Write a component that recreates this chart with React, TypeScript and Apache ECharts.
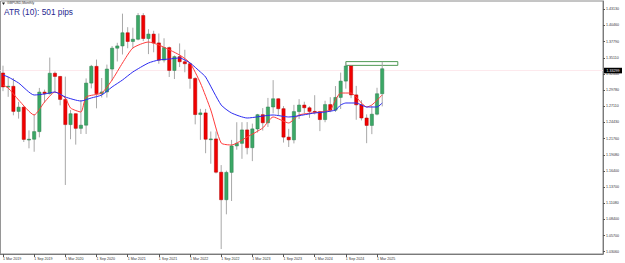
import React, { useEffect, useRef } from "react";
import * as echarts from "echarts";

const MONTH_NAMES = ["Jan","Feb","Mar","Apr","May","Jun","Jul","Aug","Sep","Oct","Nov","Dec"];
const TOTAL_SLOTS = 116; // visible bar slots incl. right shift
const categories: string[] = Array.from({ length: TOTAL_SLOTS }, (_, k) => {
  const m = (2 + k) % 12;
  const y = 2019 + Math.floor((2 + k) / 12);
  return `1 ${MONTH_NAMES[m]} ${y}`;
});

// Monthly GBPUSD candles, Mar 2019 .. Apr 2025
const opens = [1.3260,1.3030,1.3040,1.2625,1.2695,1.2162,1.2165,1.2291,1.2944,1.2918,1.3256,1.3203,1.2823,1.2407,1.2587,1.2345,1.2397,1.3093,1.3370,1.2918,1.2946,1.3325,1.3670,1.3707,1.3925,1.3781,1.3818,1.4210,1.3830,1.3903,1.3757,1.3473,1.3680,1.3302,1.3530,1.3446,1.3413,1.3170,1.2573,1.2600,1.2165,1.2170,1.1620,1.1165,1.1617,1.2055,1.2097,1.2319,1.2025,1.2336,1.2571,1.2437,1.2698,1.2834,1.2670,1.2200,1.2155,1.2622,1.2730,1.2685,1.2625,1.2620,1.2490,1.2738,1.2645,1.2856,1.3126,1.3376,1.2898,1.2734,1.2516,1.2393,1.2579,1.2917];
const highs = [1.3381,1.3196,1.3176,1.2783,1.2710,1.2311,1.2582,1.3013,1.2985,1.3515,1.3284,1.3212,1.3200,1.2647,1.2590,1.2813,1.3170,1.3394,1.3482,1.3177,1.3399,1.3705,1.3759,1.4241,1.4017,1.4009,1.4250,1.4249,1.3984,1.3958,1.3913,1.3834,1.3697,1.3550,1.3749,1.3644,1.3437,1.3190,1.2667,1.2666,1.2293,1.2293,1.1738,1.1646,1.2154,1.2446,1.2447,1.2448,1.2423,1.2584,1.2680,1.2848,1.3142,1.2841,1.2713,1.2337,1.2733,1.2827,1.2785,1.2709,1.2893,1.2634,1.2801,1.2860,1.3044,1.3266,1.3434,1.3391,1.3047,1.2811,1.2576,1.2715,1.3016,1.3445];
const lows = [1.2960,1.2866,1.2560,1.2506,1.2119,1.2015,1.1958,1.2196,1.2769,1.2904,1.2954,1.2725,1.1409,1.2165,1.2076,1.2252,1.2252,1.3006,1.2676,1.2855,1.2854,1.3135,1.3450,1.3566,1.3669,1.3670,1.3800,1.3787,1.3572,1.3602,1.3412,1.3434,1.3194,1.3160,1.3358,1.3272,1.3000,1.2411,1.2155,1.1934,1.1760,1.1600,1.0350,1.0924,1.1144,1.1992,1.1841,1.1915,1.1803,1.2275,1.2308,1.2368,1.2592,1.2548,1.2110,1.2037,1.2096,1.2500,1.2597,1.2518,1.2575,1.2299,1.2446,1.2612,1.2616,1.2665,1.3001,1.2844,1.2487,1.2475,1.2100,1.2249,1.2560,1.2708];
const closes = [1.3030,1.3040,1.2625,1.2695,1.2162,1.2165,1.2291,1.2944,1.2918,1.3256,1.3203,1.2823,1.2407,1.2587,1.2345,1.2397,1.3093,1.3370,1.2918,1.2946,1.3325,1.3670,1.3707,1.3925,1.3781,1.3818,1.4210,1.3830,1.3903,1.3757,1.3473,1.3680,1.3302,1.3530,1.3446,1.3413,1.3170,1.2573,1.2600,1.2165,1.2170,1.1620,1.1165,1.1617,1.2055,1.2097,1.2319,1.2025,1.2336,1.2571,1.2437,1.2698,1.2834,1.2670,1.2200,1.2155,1.2622,1.2730,1.2685,1.2625,1.2620,1.2490,1.2738,1.2645,1.2856,1.3126,1.3376,1.2898,1.2734,1.2516,1.2393,1.2579,1.2917,1.3330];

// Moving averages (null = not read; lines join readings)
const _ = null;
const maFast: (number | null)[] = [1.3062,1.3012,_,1.2814,_,_,1.2566,_,1.2780,_,1.2946,_,1.2847,1.2681,_,1.2615,1.2863,_,_,1.2929,_,1.3144,_,1.3425,_,1.3673,_,_,1.3772,_,1.3723,_,_,_,1.3557,_,1.3425,_,1.3095,_,1.2648,_,1.2103,_,1.2070,_,_,1.2202,_,_,1.2351,_,1.2533,_,_,1.2434,_,1.2566,_,_,_,1.2615,_,1.2648,1.2814,1.2929,_,1.2929,1.2863,1.2764,1.2698,1.2731,_,1.2896];
const maSlow: (number | null)[] = [1.3227,1.3194,_,1.3095,_,_,1.2896,_,1.2913,_,1.2946,_,1.2863,_,_,1.2797,_,1.2847,_,1.2896,_,1.3029,_,1.3144,_,1.3277,_,_,1.3425,_,1.3475,_,1.3491,_,1.3508,_,1.3425,_,1.3277,1.3194,_,_,1.2731,_,1.2599,_,_,1.2516,_,_,_,_,1.2566,_,_,1.2533,_,_,_,_,1.2599,_,1.2615,_,1.2648,1.2731,1.2764,_,1.2764,_,1.2698,_,1.2698,1.2764];

const yTickLabels = ["1.43130","1.40460","1.37790","1.35110","1.32440","1.29780","1.27110","1.24430","1.21760","1.19080","1.16400","1.13700","1.11080","1.08400","1.05700","1.03060"];
const currentPrice = 1.3330;
const currentPriceLabel = "1.33299";
const boxFrom = "1 Sep 2024";
const boxTo = "1 Jul 2025";
const boxTop = 1.3448;
const boxBottom = 1.3386;
const chartSymbol = "GBPUSD,Monthly";
const atrText = "ATR (10): 501 pips";

const Y_MIN = 1.0268;
const Y_MAX = 1.4450;

const GREEN = "#3ba866";
const GREEN_EDGE = "#2a7d4c";
const RED = "#f20000";
const RED_EDGE = "#b00000";
const WICK = "#a8a8a8";

export default function App() {
  const ref = useRef<HTMLDivElement>(null);
  useEffect(() => {
    if (!ref.current) return;
    const chart = echarts.init(ref.current, undefined, { renderer: "svg" });
    const candleData = opens.map((o, i) => [i, o, closes[i], lows[i], highs[i]]);
    const n = opens.length;
    const showLabel = (idx: number, v: string) => idx < n && (v.includes("Mar") || v.includes("Sep"));
    const option: any = {
      animation: false,
      textStyle: { fontFamily: "Liberation Sans, Arial, sans-serif" },
      grid: { left: 0, right: 22, top: 1, bottom: 9, show: true, borderColor: "#8a8a8a", borderWidth: 1, backgroundColor: "#fff" },
      xAxis: {
        type: "category",
        data: categories,
        boundaryGap: true,
        axisLine: { show: true, lineStyle: { color: "#7a7a7a", width: 1 } },
        axisTick: { show: true, alignWithLabel: true, length: 3, interval: showLabel, lineStyle: { color: "#555" } },
        axisLabel: { interval: showLabel, fontSize: 3.6, color: "#333", align: "left", margin: 2.5 },
        splitLine: { show: false },
      },
      yAxis: {
        type: "value",
        position: "right",
        min: Y_MIN,
        max: Y_MAX,
        axisLine: { show: true, lineStyle: { color: "#7a7a7a", width: 1 } },
        axisTick: { show: true, length: 2, customValues: yTickLabels.map(Number), lineStyle: { color: "#555" } },
        axisLabel: { customValues: yTickLabels.map(Number), fontSize: 3.6, color: "#333", margin: 3, formatter: (v: number) => v.toFixed(5) },
        splitLine: { show: false },
      },
      series: [
        {
          type: "custom",
          data: candleData,
          encode: { x: 0, y: [1, 2, 3, 4] },
          renderItem: (params: any, api: any) => {
            const i = api.value(0);
            const o = api.value(1), c = api.value(2), l = api.value(3), h = api.value(4);
            const pO = api.coord([i, o]);
            const pC = api.coord([i, c]);
            const pL = api.coord([i, l]);
            const pH = api.coord([i, h]);
            const bw = api.size([1, 0])[0] * 0.62;
            const x = pO[0];
            const up = c >= o;
            const top = Math.min(pO[1], pC[1]);
            const bh = Math.max(Math.abs(pO[1] - pC[1]), 0.8);
            return {
              type: "group",
              children: [
                { type: "line", shape: { x1: x, y1: pH[1], x2: x, y2: pL[1] }, style: { stroke: WICK, lineWidth: 1 } },
                { type: "rect", shape: { x: x - bw / 2, y: top, width: bw, height: bh }, style: { fill: up ? GREEN : RED, stroke: up ? GREEN_EDGE : RED_EDGE, lineWidth: 0.5 } },
              ],
            };
          },
          z: 3,
          markLine: {
            symbol: ["none", "none"],
            silent: true,
            data: [{ yAxis: currentPrice }],
            lineStyle: { color: "#fde9ed", width: 1, type: "solid" },
            label: { show: true, position: "end", formatter: currentPriceLabel, backgroundColor: "#000", color: "#fff", fontSize: 3.6, padding: [0.8, 2.5], distance: 1 },
            z: 1,
          },
          markArea: {
            silent: true,
            itemStyle: { color: "rgba(0,0,0,0)", borderColor: "#4f9a55", borderWidth: 1 },
            data: [[{ xAxis: boxFrom, yAxis: boxTop }, { xAxis: boxTo, yAxis: boxBottom }]],
          },
        },
        {
          type: "line",
          data: maFast,
          connectNulls: true,
          showSymbol: false,
          smooth: 0.2,
          lineStyle: { color: "#ff3b3b", width: 1 },
          z: 4,
        },
        {
          type: "line",
          data: maSlow,
          connectNulls: true,
          showSymbol: false,
          smooth: 0.2,
          lineStyle: { color: "#2b2bf0", width: 1 },
          z: 4,
        },
      ],
      graphic: [
        { type: "polygon", shape: { points: [[2, 2.5], [5, 2.5], [3.5, 5]] }, style: { fill: "#222" } },
        { type: "text", x: 7, y: 1.5, style: { text: chartSymbol, fontSize: 3.4, fill: "#333", fontFamily: "Liberation Sans, Arial, sans-serif" } },
        { type: "text", x: 4, y: 8, style: { text: atrText, fontSize: 8.3, fill: "#26288f", fontFamily: "Liberation Sans, Arial, sans-serif" } },
      ],
    };
    chart.setOption(option);
    return () => chart.dispose();
  }, []);
  return <div ref={ref} style={{ position: "absolute", left: 0, top: 0, width: 625, height: 263, background: "#fff" }} />;
}
